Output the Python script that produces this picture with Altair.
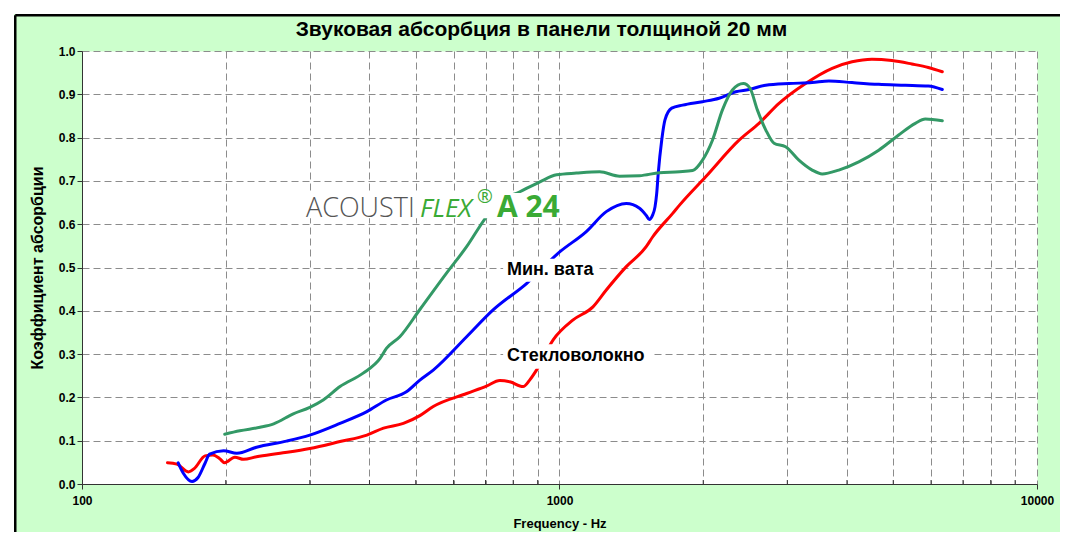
import altair as alt
import pandas as pd

# ---------------- data ----------------
glass_f = [151, 158, 167, 172, 181, 188, 194, 199, 209, 218, 232, 260, 300, 347, 395, 428, 471, 510,
           544, 639, 703, 750, 787, 839, 866, 895, 970, 1068, 1175, 1253, 1380, 1519, 1568, 1726, 1784,
           2026, 2377, 2617, 2882, 3276, 3724, 4099, 4512, 4967, 5467, 5922, 6334]
glass_v = [0.049, 0.046, 0.028, 0.036, 0.065, 0.067, 0.059, 0.049, 0.062, 0.057, 0.063, 0.071, 0.082,
           0.098, 0.113, 0.129, 0.140, 0.158, 0.179, 0.209, 0.226, 0.239, 0.236, 0.225, 0.240, 0.263,
           0.333, 0.379, 0.409, 0.448, 0.502, 0.548, 0.571, 0.625, 0.644, 0.710, 0.794, 0.833, 0.879,
           0.925, 0.960, 0.975, 0.981, 0.978, 0.970, 0.962, 0.952]

wool_f = [159, 163, 170, 175, 181, 185, 198, 211, 232, 268, 300, 347, 395, 434, 478, 510, 544, 639,
          726, 853, 1001, 1138, 1253, 1380, 1471, 1520, 1542, 1565, 1585, 1598, 1610, 1637, 1663, 1718,
          1811, 1993, 2159, 2340, 2494, 2703, 3023, 3382, 3666, 4099, 4662, 5302, 5922, 6334]
wool_v = [0.049, 0.025, 0.006, 0.015, 0.048, 0.069, 0.077, 0.071, 0.085, 0.099, 0.113, 0.140, 0.167,
          0.194, 0.213, 0.240, 0.263, 0.340, 0.402, 0.463, 0.536, 0.583, 0.629, 0.648, 0.637, 0.620,
          0.611, 0.620, 0.640, 0.671, 0.718, 0.794, 0.841, 0.868, 0.875, 0.883, 0.891, 0.906, 0.911,
          0.921, 0.925, 0.927, 0.931, 0.927, 0.923, 0.921, 0.919, 0.911]

flex_f = [199, 214, 236, 252, 277, 300, 320, 347, 388, 421, 434, 463, 510, 580, 639, 703, 750, 826,
          910, 986, 1085, 1214, 1336, 1471, 1619, 1784, 1900, 1993, 2091, 2194, 2302, 2427, 2506, 2596,
          2703, 2814, 2975, 3172, 3382, 3550, 3845, 4234, 4662, 5132, 5561, 5835, 6334]
flex_v = [0.115, 0.123, 0.131, 0.139, 0.162, 0.177, 0.194, 0.225, 0.256, 0.290, 0.313, 0.340, 0.403,
          0.487, 0.548, 0.617, 0.652, 0.675, 0.698, 0.714, 0.718, 0.721, 0.711, 0.712, 0.719, 0.721,
          0.724, 0.748, 0.794, 0.864, 0.910, 0.925, 0.914, 0.864, 0.818, 0.787, 0.779, 0.748, 0.725,
          0.716, 0.725, 0.744, 0.771, 0.806, 0.833, 0.843, 0.839]

x_ticks = [100, 200, 300, 400, 500, 600, 700, 800, 900,
           1000, 2000, 3000, 4000, 5000, 6000, 7000, 8000, 9000, 10000]
x_minor = [200, 300, 400, 500, 600, 700, 800, 900,
           2000, 3000, 4000, 5000, 6000, 7000, 8000, 9000]
y_ticks = [0.0, 0.1, 0.2, 0.3, 0.4, 0.5, 0.6, 0.7, 0.8, 0.9, 1.0]

title_text = "Звуковая абсорбция в панели толщиной 20 мм"
x_title = "Frequency - Hz"
y_title = "Коэффициент абсорбции"
wool_label = "Мин. вата"
glass_label = "Стекловолокно"

# annotation anchors (data coordinates)
label_f = [776, 776]
label_v = [0.494, 0.296]
box_f1 = [762, 762, 289]
box_f2 = [1204, 1562, 1012]
box_v1 = [0.520, 0.323, 0.672]
box_v2 = [0.467, 0.266, 0.614]
logo_parts = ["ACOUSTI", "FLEX", "®", "A 24"]
logo_f = [294.5, 510.4, 672.0, 739.7]
logo_v = [0.617, 0.617, 0.648, 0.617]

# ---------------- layout ----------------
W, H = 955, 433
FONT = "Liberation Sans"
GREEN_BG = "#CCFFCC"

x_scale = alt.Scale(type="log", domain=[100, 10000], nice=False)
y_scale = alt.Scale(domain=[0, 1], nice=False)

major = "datum.value == 100 || datum.value == 1000 || datum.value == 10000"
x_axis = alt.Axis(
    values=x_ticks,
    labelExpr="(" + major + ") ? format(datum.value, 'd') : ''",
    labelFlush=False, labelOverlap=False, labelPadding=6, tickSize=5,
    tickOpacity={"condition": {"test": major, "value": 1}, "value": 0},
    grid=True, gridDash=[7, 4], gridColor="#8c8c8c", gridWidth=1,
    title=x_title, titleFontSize=13, titlePadding=11,
)
y_axis = alt.Axis(
    values=y_ticks, format=".1f", labelPadding=2, tickSize=5,
    grid=True, gridDash=[7, 4], gridColor="#8c8c8c", gridWidth=1,
    title=y_title, titleFontSize=16, titlePadding=13,
)

def X(field):
    return alt.X(field, type="quantitative", scale=x_scale, axis=x_axis)

def Y(field):
    return alt.Y(field, type="quantitative", scale=y_scale, axis=y_axis)

one = pd.DataFrame({"k": [0]})

# frame: white page margin, black border on top/left
strip_left = alt.Chart(one).mark_rect(color="white").encode(
    x=alt.value(-74), x2=alt.value(-68), y=alt.value(-43), y2=alt.value(481))
strip_top = alt.Chart(one).mark_rect(color="white").encode(
    x=alt.value(-74), x2=alt.value(978), y=alt.value(-43), y2=alt.value(-37))
border_left = alt.Chart(one).mark_rule(color="black", strokeWidth=2.5).encode(
    x=alt.value(-66.75), y=alt.value(-35.75), y2=alt.value(481))
border_top = alt.Chart(one).mark_rule(color="black", strokeWidth=2.5).encode(
    x=alt.value(-66.75), x2=alt.value(978), y=alt.value(-35.75))

title = alt.Chart(one).mark_text(
    text=title_text, font=FONT, fontSize=21, fontWeight="bold", color="black",
    align="center", baseline="middle").encode(x=alt.value(459.5), y=alt.value(-21))

# minor ticks pointing into the plot area
minor_ticks = alt.Chart(pd.DataFrame({"f": x_minor})).mark_rule(color="#333333", strokeWidth=1).encode(
    x=X("f"), y=alt.value(H - 4), y2=alt.value(H))

def series(fs, vs, color):
    df = pd.DataFrame({"f": fs, "v": vs})
    return alt.Chart(df).mark_line(color=color, strokeWidth=3, strokeCap="round",
                                   strokeJoin="round", interpolate="monotone").encode(
        x=X("f"), y=Y("v"))

glass = series(glass_f, glass_v, "#FF0000")
wool = series(wool_f, wool_v, "#0000FF")
flex = series(flex_f, flex_v, "#339966")

boxes = alt.Chart(pd.DataFrame({"f1": box_f1, "f2": box_f2, "v1": box_v1, "v2": box_v2})).mark_rect(
    color="white").encode(x=X("f1"), x2="f2", y=Y("v1"), y2="v2")

labels = alt.Chart(pd.DataFrame({"f": label_f, "v": label_v, "t": [wool_label, glass_label]})).mark_text(
    font=FONT, fontSize=18, fontWeight="bold", color="black", align="left", baseline="middle").encode(
    x=X("f"), y=Y("v"), text="t:N")

def logo(i, **kw):
    df = pd.DataFrame({"f": [logo_f[i]], "v": [logo_v[i]], "t": [logo_parts[i]]})
    return alt.Chart(df).mark_text(align="left", baseline="alphabetic", **kw).encode(
        x=X("f"), y=Y("v"), text="t:N")

logo1 = logo(0, font="Open Sans", fontSize=27, fontWeight=300, color="#555555")
logo2 = logo(1, font="Open Sans", fontSize=26, fontStyle="italic", fontWeight=400, color="#3aaa35")
logo3 = logo(2, font="Open Sans", fontSize=19, fontWeight=400, color="#3aaa35")
logo4 = logo(3, font="Open Sans", fontSize=30, fontWeight="bold", color="#3aaa35")

chart = alt.layer(
    strip_left, strip_top, border_left, border_top, title, minor_ticks,
    glass, wool, flex, boxes, labels, logo1, logo2, logo3, logo4,
).properties(
    width=W, height=H,
    autosize=alt.AutoSizeParams(type="none"),
    padding={"left": 74, "top": 43, "right": 23, "bottom": 48},
    background=GREEN_BG,
).configure_view(
    fill="white", stroke="transparent"
).configure_axis(
    domainColor="#333333", tickColor="#333333", domainWidth=1,
    labelFont=FONT, labelFontWeight="bold", labelFontSize=12, labelColor="black",
    titleFont=FONT, titleFontWeight="bold", titleColor="black",
)

chart.save("out.html", embed_options={"renderer": "svg", "actions": False})
